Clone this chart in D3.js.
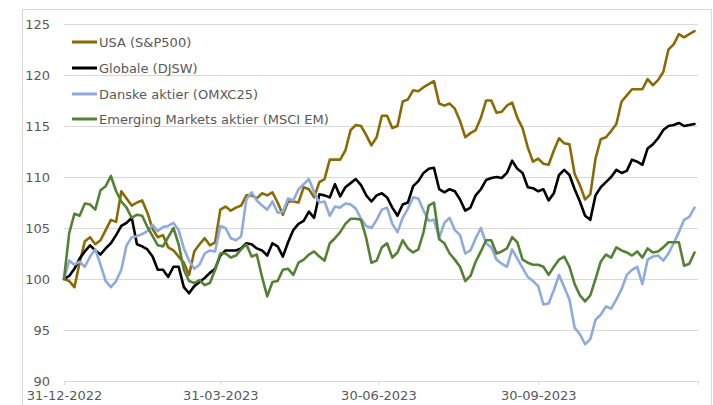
<!DOCTYPE html>
<html>
<head>
<meta charset="utf-8">
<script src="https://cdn.jsdelivr.net/npm/d3@7"></script>
<style>
  html, body { margin: 0; padding: 0; background: #fff; }
  svg { display: block; }
  text { font-family: "DejaVu Sans", Verdana, sans-serif; fill: #595959; }
</style>
</head>
<body>
<svg id="chart" width="713" height="405"></svg>
<script>
// ---- data ----
const startDate = "2022-12-31";
const stepDays = 3; // observation spacing (calendar days)
const seriesNames = ["USA (S&P500)", "Globale (DJSW)", "Danske aktier (OMXC25)", "Emerging Markets aktier (MSCI EM)"];
const seriesColors = ["#8a6a04", "#000000", "#8faadc", "#548235"];

const usa = [100,99.8,99.2,101.6,103.7,104.1,103.4,103.8,104.8,105.8,105.6,108.6,107.9,107.2,107.5,107.7,106.5,104.9,104.1,104.3,
103.1,102.8,102.2,101.6,100.4,102.7,103.4,104.0,103.3,103.6,106.8,107.1,106.7,107.0,107.2,108.2,108.2,107.9,108.4,108.2,
108.5,107.5,106.3,107.6,107.6,107.5,109.0,108.8,108.0,109.5,109.8,111.7,111.7,111.7,112.6,114.6,115.1,115.0,114.1,113.1,
113.9,116.0,116.0,114.8,115.0,117.4,117.6,118.5,118.4,118.8,119.1,119.4,117.2,117.0,117.2,116.7,115.5,113.9,114.3,114.6,
115.8,117.5,117.5,116.3,116.4,117.0,117.3,115.8,114.8,112.9,111.5,111.8,111.3,111.2,112.6,113.8,113.3,113.2,110.3,109.2,
107.8,108.3,111.8,113.7,113.9,114.5,115.2,117.4,118.0,118.6,118.6,118.6,119.6,119.0,119.5,120.3,122.5,123.0,124.0,123.7,
124.0,124.3];

const globale = [100,100.3,101.0,102.0,102.7,103.3,102.8,102.4,103.0,103.5,104.3,105.2,105.5,106.0,103.4,103.2,102.9,102.2,100.9,100.9,
100.2,101.2,101.2,99.2,98.6,99.3,99.7,100.1,100.6,101.0,102.3,102.8,102.8,102.8,103.0,103.5,103.4,103.0,102.8,102.3,
103.5,103.2,102.2,103.6,104.8,105.4,105.7,106.6,106.0,108.3,108.2,108.0,109.3,108.1,109.0,109.4,109.8,109.2,108.2,107.6,
108.2,108.4,108.0,107.0,106.2,107.3,107.5,109.1,109.6,110.4,110.8,110.9,108.8,108.5,108.8,108.6,107.8,106.7,107.0,108.2,
108.8,109.7,109.9,110.0,109.9,110.4,111.6,110.8,110.4,109.0,108.9,108.6,108.8,107.7,108.4,110.2,110.7,110.2,108.8,107.6,
106.2,105.8,108.2,109.0,109.5,110.0,110.7,110.4,110.6,111.7,111.5,111.2,112.8,113.2,113.8,114.6,115.0,115.1,115.3,115.0,
115.1,115.2];

const danske = [100,101.8,101.4,101.7,101.2,102.2,102.9,101.4,99.8,99.2,99.8,100.9,103.3,104.1,104.2,104.4,104.7,105.3,104.7,105.1,
105.2,105.5,104.8,103.0,101.8,101.0,101.4,102.5,102.8,102.7,105.2,105.0,104.0,103.8,104.2,107.8,108.5,107.7,107.2,106.8,
107.6,106.5,106.6,107.9,107.7,108.8,109.3,109.8,108.5,107.5,107.6,106.2,107.1,107.0,107.4,107.3,106.9,105.9,105.2,105.0,
105.8,106.8,107.0,105.4,104.6,106.0,106.9,108.0,107.9,106.7,105.7,105.8,104.0,105.5,106.0,104.8,104.3,102.5,102.8,104.0,
105.0,103.5,103.1,101.9,101.5,101.2,102.9,102.0,101.1,100.2,99.8,99.3,97.5,97.6,98.9,100.4,99.2,98.0,95.2,94.6,
93.6,94.1,96.0,96.5,97.3,97.1,98.0,99.0,100.4,100.9,101.2,99.5,101.9,102.2,102.3,101.8,102.5,103.5,104.6,105.8,
106.1,107.0];

const emerging = [100,104.5,106.4,106.2,107.4,107.3,106.8,108.7,109.1,110.1,108.6,107.6,107.0,106.0,106.3,106.2,105.1,104.2,103.3,103.2,
104.1,105.0,103.4,100.9,99.8,99.6,99.9,99.4,99.6,100.9,102.5,102.5,102.1,102.3,102.9,103.4,102.2,102.4,100.2,98.3,
99.7,99.8,100.9,101.0,100.4,101.6,101.9,102.4,102.7,102.2,101.8,103.5,104.0,104.6,105.4,105.9,105.9,105.8,104.0,101.6,
101.8,103.1,103.5,102.1,102.6,103.8,103.0,102.6,102.9,104.6,107.2,107.5,103.9,103.5,102.5,101.9,101.2,99.8,100.3,101.7,
102.7,103.8,103.8,102.5,102.7,103.0,104.1,103.6,101.9,101.6,101.4,101.4,101.2,100.4,101.2,101.9,102.2,101.2,99.5,98.4,
97.8,98.4,100.0,101.7,102.4,102.1,103.1,102.8,102.6,102.3,102.7,102.1,103.0,102.6,102.7,103.1,103.6,103.6,103.6,101.3,
101.5,102.6];

const yTicks = [90, 95, 100, 105, 110, 115, 120, 125];
const xTickLabels = ["31-12-2022", "31-03-2023", "30-06-2023", "30-09-2023"];

// ---- build ----
const parse = d3.timeParse("%Y-%m-%d");
const parseLabel = d3.timeParse("%d-%m-%Y");
const fmt = d3.timeFormat("%d-%m-%Y");
const t0 = parse(startDate);
const dates = usa.map((_, i) => d3.timeDay.offset(t0, i * stepDays));
const allSeries = [usa, globale, danske, emerging];

const svg = d3.select("#chart");
const margin = {left: 64, right: 15, top: 24, bottom: 24};

// outer chart border
svg.append("rect")
  .attr("x", 22.5).attr("y", 9.5)
  .attr("width", 689).attr("height", 430)
  .attr("fill", "none").attr("stroke", "#d9d9d9").attr("stroke-width", 1);

const x = d3.scaleTime()
  .domain([parse("2022-12-31"), parse("2023-12-31")])
  .range([64, 698]);
const y = d3.scaleLinear().domain([90, 125]).range([381, 24]);

// gridlines
const yAxis = d3.axisLeft(y).tickValues(yTicks).tickSize(-(698 - 64)).tickPadding(14);
const gy = svg.append("g").attr("transform", "translate(64,0)").call(yAxis);
gy.select(".domain").remove();
gy.selectAll(".tick line").attr("stroke", "#d9d9d9").attr("stroke-width", 1);
gy.selectAll(".tick text")
  .attr("fill", "#595959")
  .style("font-family", "'DejaVu Sans', Verdana, sans-serif")
  .style("font-size", "13px");

// x axis
const xAxis = d3.axisBottom(x)
  .tickValues(xTickLabels.map(s => parseLabel(s)))
  .tickFormat(fmt)
  .tickSize(4)
  .tickPadding(6);
const gx = svg.append("g").attr("transform", "translate(0,381)").call(xAxis);
gx.select(".domain").attr("stroke", "#d9d9d9");
gx.selectAll(".tick line").attr("stroke", "#d9d9d9");
gx.selectAll(".tick text")
  .attr("fill", "#595959")
  .style("font-family", "'DejaVu Sans', Verdana, sans-serif")
  .style("font-size", "13px");

// lines
const line = d3.line()
  .x((d, i) => x(dates[i]))
  .y(d => y(d));

svg.append("g").selectAll("path")
  .data(allSeries)
  .join("path")
  .attr("d", d => line(d))
  .attr("fill", "none")
  .attr("stroke", (d, i) => seriesColors[i])
  .attr("stroke-width", 2.6)
  .attr("stroke-linejoin", "round")
  .attr("stroke-linecap", "round");

// legend
const legend = svg.append("g");
const legY = [42, 68, 94, 119];
seriesNames.forEach((name, i) => {
  legend.append("line")
    .attr("x1", 72).attr("x2", 97)
    .attr("y1", legY[i]).attr("y2", legY[i])
    .attr("stroke", seriesColors[i]).attr("stroke-width", 3);
  legend.append("text")
    .attr("x", 99).attr("y", legY[i])
    .attr("dy", "0.35em")
    .style("font-size", "13px")
    .text(name);
});
</script>
</body>
</html>
